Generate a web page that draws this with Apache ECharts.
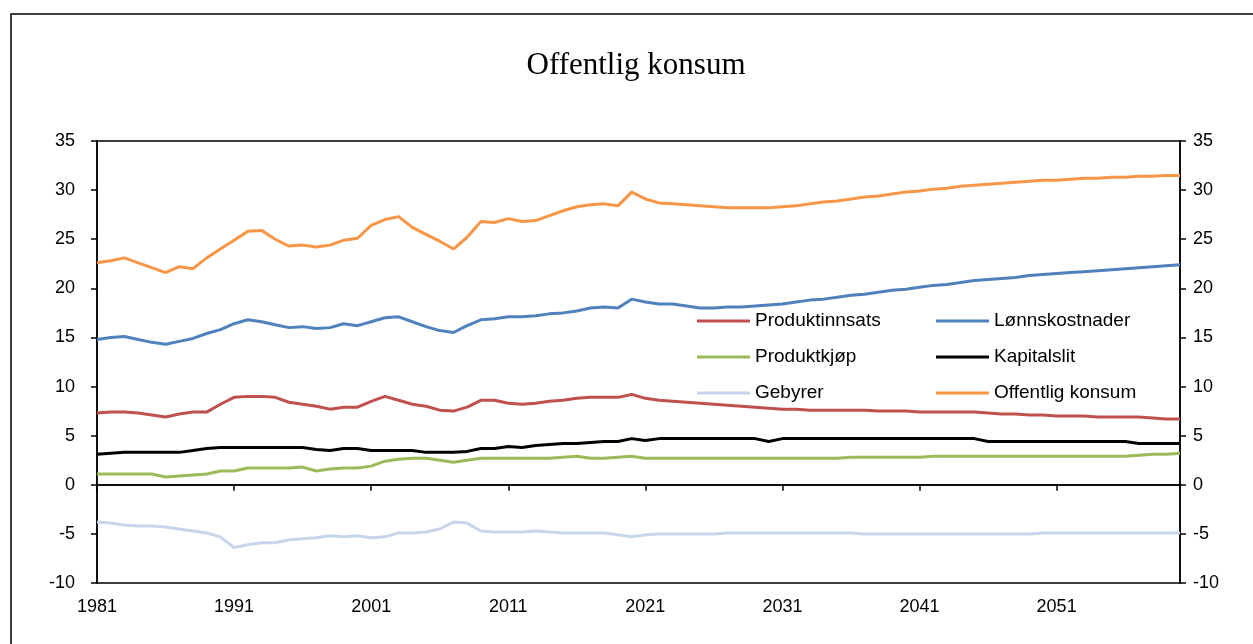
<!DOCTYPE html>
<html>
<head>
<meta charset="utf-8">
<script src="https://cdn.jsdelivr.net/npm/echarts@6/dist/echarts.min.js"></script>
<style>
html,body{margin:0;padding:0;background:#fff;}
#chart{width:1253px;height:644px;}
</style>
</head>
<body>
<div id="chart"></div>
<script>
const years = [];
for (let y = 1981; y <= 2060; y++) years.push(String(y));

const produktinnsats = [
7.3,7.4,7.4,7.3,7.1,6.9,7.2,7.4,7.4,8.2,
8.9,9.0,9.0,8.9,8.4,8.2,8.0,7.7,7.9,7.9,
8.5,9.0,8.6,8.2,8.0,7.6,7.5,7.9,8.6,8.6,
8.3,8.2,8.3,8.5,8.6,8.8,8.9,8.9,8.9,9.2,
8.8,8.6,8.5,8.4,8.3,8.2,8.1,8.0,7.9,7.8,
7.7,7.7,7.6,7.6,7.6,7.6,7.6,7.5,7.5,7.5,
7.4,7.4,7.4,7.4,7.4,7.3,7.2,7.2,7.1,7.1,
7.0,7.0,7.0,6.9,6.9,6.9,6.9,6.8,6.7,6.7];

const lonnskostnader = [
14.8,15.0,15.1,14.8,14.5,14.3,14.6,14.9,15.4,15.8,
16.4,16.8,16.6,16.3,16.0,16.1,15.9,16.0,16.4,16.2,
16.6,17.0,17.1,16.6,16.1,15.7,15.5,16.2,16.8,16.9,
17.1,17.1,17.2,17.4,17.5,17.7,18.0,18.1,18.0,18.9,
18.6,18.4,18.4,18.2,18.0,18.0,18.1,18.1,18.2,18.3,
18.4,18.6,18.8,18.9,19.1,19.3,19.4,19.6,19.8,19.9,
20.1,20.3,20.4,20.6,20.8,20.9,21.0,21.1,21.3,21.4,
21.5,21.6,21.7,21.8,21.9,22.0,22.1,22.2,22.3,22.4];

const produktkjop = [
1.1,1.1,1.1,1.1,1.1,0.8,0.9,1.0,1.1,1.4,
1.4,1.7,1.7,1.7,1.7,1.8,1.4,1.6,1.7,1.7,
1.9,2.4,2.6,2.7,2.7,2.5,2.3,2.5,2.7,2.7,
2.7,2.7,2.7,2.7,2.8,2.9,2.7,2.7,2.8,2.9,
2.7,2.7,2.7,2.7,2.7,2.7,2.7,2.7,2.7,2.7,
2.7,2.7,2.7,2.7,2.7,2.8,2.8,2.8,2.8,2.8,
2.8,2.9,2.9,2.9,2.9,2.9,2.9,2.9,2.9,2.9,
2.9,2.9,2.9,2.9,2.9,2.9,3.0,3.1,3.1,3.2];

const kapitalslit = [
3.1,3.2,3.3,3.3,3.3,3.3,3.3,3.5,3.7,3.8,
3.8,3.8,3.8,3.8,3.8,3.8,3.6,3.5,3.7,3.7,
3.5,3.5,3.5,3.5,3.3,3.3,3.3,3.4,3.7,3.7,
3.9,3.8,4.0,4.1,4.2,4.2,4.3,4.4,4.4,4.7,
4.5,4.7,4.7,4.7,4.7,4.7,4.7,4.7,4.7,4.4,
4.7,4.7,4.7,4.7,4.7,4.7,4.7,4.7,4.7,4.7,
4.7,4.7,4.7,4.7,4.7,4.4,4.4,4.4,4.4,4.4,
4.4,4.4,4.4,4.4,4.4,4.4,4.2,4.2,4.2,4.2];

const gebyrer = [
-3.8,-3.9,-4.1,-4.2,-4.2,-4.3,-4.5,-4.7,-4.9,-5.3,
-6.4,-6.1,-5.9,-5.9,-5.6,-5.5,-5.4,-5.2,-5.3,-5.2,
-5.4,-5.3,-4.9,-4.9,-4.8,-4.5,-3.8,-3.9,-4.7,-4.8,
-4.8,-4.8,-4.7,-4.8,-4.9,-4.9,-4.9,-4.9,-5.1,-5.3,
-5.1,-5.0,-5.0,-5.0,-5.0,-5.0,-4.9,-4.9,-4.9,-4.9,
-4.9,-4.9,-4.9,-4.9,-4.9,-4.9,-5.0,-5.0,-5.0,-5.0,
-5.0,-5.0,-5.0,-5.0,-5.0,-5.0,-5.0,-5.0,-5.0,-4.9,
-4.9,-4.9,-4.9,-4.9,-4.9,-4.9,-4.9,-4.9,-4.9,-4.9];

const offentligKonsum = [
22.6,22.8,23.1,22.6,22.1,21.6,22.2,22.0,23.1,24.0,
24.9,25.8,25.9,25.0,24.3,24.4,24.2,24.4,24.9,25.1,
26.4,27.0,27.3,26.2,25.5,24.8,24.0,25.2,26.8,26.7,
27.1,26.8,26.9,27.4,27.9,28.3,28.5,28.6,28.4,29.8,
29.1,28.7,28.6,28.5,28.4,28.3,28.2,28.2,28.2,28.2,
28.3,28.4,28.6,28.8,28.9,29.1,29.3,29.4,29.6,29.8,
29.9,30.1,30.2,30.4,30.5,30.6,30.7,30.8,30.9,31.0,
31.0,31.1,31.2,31.2,31.3,31.3,31.4,31.4,31.5,31.5];

const names = ['Produktinnsats','Lønnskostnader','Produktkjøp','Kapitalslit','Gebyrer','Offentlig konsum'];
const colors = ['#C0504D','#4F81BD','#9BBB59','#000000','#C6D5EA','#F79646'];
const seriesData = [produktinnsats, lonnskostnader, produktkjop, kapitalslit, gebyrer, offentligKonsum];

const yTicks = {min: -10, max: 35, interval: 5};
const axisFont = {fontFamily: 'Liberation Sans, Arial, sans-serif', fontSize: 18, color: '#000'};

const chart = echarts.init(document.getElementById('chart'), null, {renderer: 'canvas'});

const series = names.map((n, i) => ({
  name: n,
  type: 'line',
  data: seriesData[i],
  symbol: 'none',
  smooth: false,
  z: i === 4 ? 2 : 3,
  lineStyle: {color: colors[i], width: 3},
  itemStyle: {color: colors[i]}
}));
series[0].markLine = {
  silent: true,
  symbol: 'none',
  label: {show: false},
  lineStyle: {color: '#000', width: 1.5, type: 'solid'},
  data: [{yAxis: 0}]
};

const legendBase = {
  orient: 'vertical',
  top: 311,
  padding: 0,
  icon: 'rect',
  itemWidth: 53,
  itemHeight: 3,
  itemGap: 16,
  textStyle: {fontFamily: 'Liberation Sans, Arial, sans-serif', fontSize: 19, color: '#000', lineHeight: 20}
};

chart.setOption({
  animation: false,
  backgroundColor: '#fff',
  graphic: [
    {type: 'rect', x: 11, y: 14, shape: {x: 0, y: 0, width: 1300, height: 700}, style: {fill: 'none', stroke: '#000', lineWidth: 1.5}, silent: true, z: 100},
    {type: 'text', x: 636, y: 66, style: {text: 'Offentlig konsum', font: '31px "Liberation Serif", "Times New Roman", serif', fill: '#000', textAlign: 'center', textVerticalAlign: 'middle'}, silent: true}
  ],
  legend: [
    Object.assign({}, legendBase, {left: 697, data: ['Produktinnsats','Produktkjøp','Gebyrer']}),
    Object.assign({}, legendBase, {left: 936, data: ['Lønnskostnader','Kapitalslit','Offentlig konsum']})
  ],
  grid: {left: 97, right: 73, top: 141, bottom: 61, show: true, borderColor: '#000', borderWidth: 1.5, backgroundColor: 'transparent', containLabel: false},
  xAxis: {
    type: 'category',
    data: years,
    boundaryGap: false,
    axisLine: {show: true, lineStyle: {color: '#000', width: 1.5}},
    axisTick: {show: true, interval: 9, length: 6, inside: false, lineStyle: {color: '#000', width: 1.5}},
    axisLabel: Object.assign({interval: 9, margin: 15}, axisFont),
    splitLine: {show: false}
  },
  yAxis: [
    Object.assign({type: 'value', position: 'left'}, yTicks, {
      axisLine: {show: true, lineStyle: {color: '#000', width: 1.5}},
      axisTick: {show: true, length: 6, lineStyle: {color: '#000', width: 1.5}},
      axisLabel: Object.assign({margin: 22}, axisFont),
      splitLine: {show: false}
    }),
    Object.assign({type: 'value', position: 'right'}, yTicks, {
      axisLine: {show: true, lineStyle: {color: '#000', width: 1.5}},
      axisTick: {show: true, length: 6, lineStyle: {color: '#000', width: 1.5}},
      axisLabel: Object.assign({margin: 13}, axisFont),
      splitLine: {show: false}
    })
  ],
  series: series
});
</script>
</body>
</html>
